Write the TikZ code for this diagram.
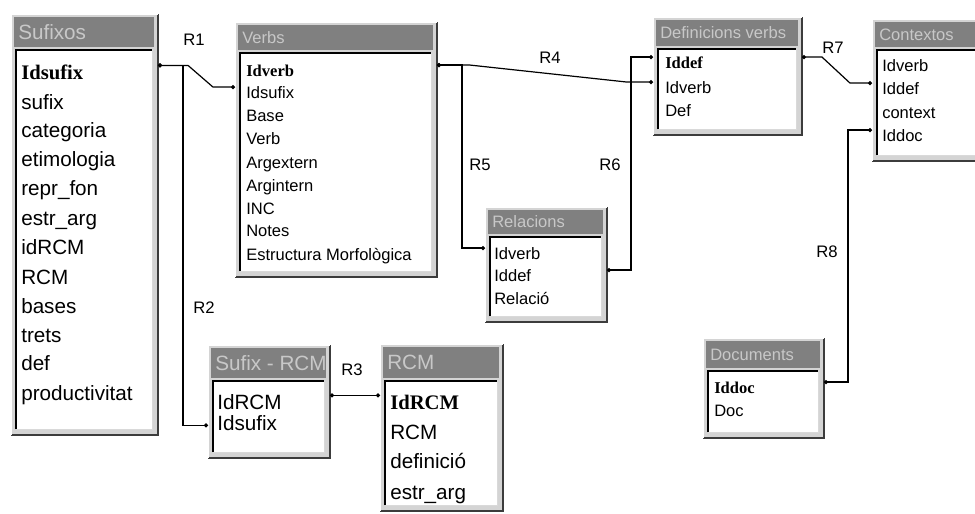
\documentclass[tikz,border=0pt]{standalone}
\usepackage{fontspec}
\setmainfont{Liberation Sans}
\newfontfamily\keyfont{Liberation Serif}
\usetikzlibrary{calc,arrows.meta}

\newlength{\du}
\setlength{\du}{0.75pt}

\definecolor{framegray}{RGB}{212,212,212}
\definecolor{titlegray}{RGB}{128,128,128}
\definecolor{titletextgray}{RGB}{200,200,200}
\definecolor{shadegray}{RGB}{60,60,60}

\newcommand{\bigfont}{\fontsize{15.5}{18}\selectfont}
\newcommand{\smallfont}{\fontsize{12.4}{15}\selectfont}
\newcommand{\pk}[1]{{\keyfont\bfseries #1}}

\tikzset{
  tableframe/.style={anchor=north west, fill=framegray, inner sep=0pt, outer sep=0pt},
  frameshade/.style={shadegray, line width=2.5\du},
  framelight/.style={white, line width=1\du},
  sunkdark/.style={black, line width=2\du},
  sunklight/.style={white!85!black, line width=1\du},
  titletext/.style={anchor=west, text=titletextgray, inner sep=2\du},
  bigrow/.style={anchor=base west, inner sep=0pt, font=\bigfont, text height=10pt, text depth=3pt},
  smallrow/.style={anchor=base west, inner sep=0pt, font=\smallfont, text height=8pt, text depth=3pt},
  rel/.style={line width=1.2\du, {Circle[length=3pt]}-{Circle[length=3pt]}},
  rellabel/.style={font=\fontsize{12.5}{15}\selectfont, inner sep=0pt},
}

% table frame: name, x, y, width, height, title bar height, title
\newcommand{\dbtable}[7]{%
  \node[tableframe, minimum width=#4\du, minimum height=#5\du] (#1) at (#2,#3) {};
  \draw[frameshade] (#1.north east) -- (#1.south east) -- (#1.south west);
  \draw[framelight] (#1.south west) -- (#1.north west) -- (#1.north east);
  \fill[titlegray] ($(#1.north west)+(3,3)$) rectangle ($(#1.north east)+(-4,3+#6)$);
  \node[titletext] (#1-title) at ($(#1.north west)+(5,3+#6/2)$) {#7};
  \fill[white] ($(#1.north west)+(5,6+#6)$) rectangle ($(#1.south east)+(-6,-6)$);
  \draw[sunklight] ($(#1.north east)+(-6,6+#6)$) -- ($(#1.south east)+(-6,-6)$) -- ($(#1.south west)+(5,-6)$);
  \draw[sunkdark] ($(#1.south west)+(5,-6)$) -- ($(#1.north west)+(5,6+#6)$) -- ($(#1.north east)+(-6,6+#6)$);
}

\begin{document}
\begin{tikzpicture}[x=\du, y=-\du]
\useasboundingbox (0,0) rectangle (975,514);

% Sufixos
\dbtable{sufixos}{11}{14}{147}{421}{30}{\bigfont Sufixos}
\node[bigrow] (suf-idsufix) at (21,79) {\pk{Idsufix}};
\node[bigrow] (suf-sufix) at (21,109) {sufix};
\node[bigrow] (suf-categoria) at (21,137) {categoria};
\node[bigrow] (suf-etimologia) at (21,166) {etimologia};
\node[bigrow] (suf-reprfon) at (21,195) {repr\_fon};
\node[bigrow] (suf-estrarg) at (21,225) {estr\_arg};
\node[bigrow] (suf-idrcm) at (21,254) {idRCM};
\node[bigrow] (suf-rcm) at (21,284) {RCM};
\node[bigrow] (suf-bases) at (21,313) {bases};
\node[bigrow] (suf-trets) at (21,342) {trets};
\node[bigrow] (suf-def) at (21,370) {def};
\node[bigrow] (suf-productivitat) at (21,400) {productivitat};

% Verbs
\dbtable{verbs}{235}{22}{202}{255}{25}{\smallfont Verbs}
\node[smallrow] (verbs-idverb) at (246,76) {\pk{Idverb}};
\node[smallrow] (verbs-idsufix) at (246,98) {Idsufix};
\node[smallrow] (verbs-base) at (246,121) {Base};
\node[smallrow] (verbs-verb) at (246,144) {Verb};
\node[smallrow] (verbs-argextern) at (246,168) {Argextern};
\node[smallrow] (verbs-argintern) at (246,191) {Argintern};
\node[smallrow] (verbs-inc) at (246,214) {INC};
\node[smallrow] (verbs-notes) at (246,236) {Notes};
\node[smallrow] (verbs-estructura) at (246,260) {Estructura Morfològica};

% Sufix - RCM
\dbtable{sufrcm}{208}{345}{122}{113}{30}{\bigfont Sufix - RCM}
\node[bigrow] (sufrcm-idrcm) at (217,409) {IdRCM};
\node[bigrow] (sufrcm-idsufix) at (217,430) {Idsufix};

% RCM
\dbtable{rcm}{380}{344}{123}{167}{31}{\bigfont RCM}
\node[bigrow] (rcm-idrcm) at (390,409) {\pk{IdRCM}};
\node[bigrow] (rcm-rcm) at (390,439) {RCM};
\node[bigrow] (rcm-definicio) at (390,468) {definició};
\node[bigrow] (rcm-estrarg) at (390,499) {estr\_arg};

% Relacions
\dbtable{relacions}{485}{207}{122}{115}{24}{\smallfont Relacions}
\node[smallrow] (rel-idverb) at (494,259) {Idverb};
\node[smallrow] (rel-iddef) at (494,281) {Iddef};
\node[smallrow] (rel-relacio) at (494,304) {Relació};

% Definicions verbs
\dbtable{defverbs}{653}{17}{149}{118}{26}{\smallfont Definicions verbs}
\node[smallrow] (def-iddef) at (665,68) {\pk{Iddef}};
\node[smallrow] (def-idverb) at (665,93) {Idverb};
\node[smallrow] (def-def) at (665,116) {Def};

% Contextos
\dbtable{contextos}{872}{19}{120}{142}{25}{\smallfont Contextos}
\node[smallrow] (ctx-idverb) at (882,71) {Idverb};
\node[smallrow] (ctx-iddef) at (882,94) {Iddef};
\node[smallrow] (ctx-context) at (882,118) {context};
\node[smallrow] (ctx-iddoc) at (882,141) {Iddoc};

% Documents
\dbtable{documents}{703}{338}{121}{100}{27}{\smallfont Documents}
\node[smallrow] (doc-iddoc) at (714,393) {\pk{Iddoc}};
\node[smallrow] (doc-doc) at (714,416) {Doc};

% relations
\draw[rel] (sufixos.east |- suf-idsufix.north) -- ++(30,0) -- ($(verbs.west |- verbs-idsufix.north)+(-22,0)$) -- (verbs.west |- verbs-idsufix.north);
\draw[rel] (sufixos.east |- suf-idsufix.north) -- ++(25,0) |- (sufrcm.west |- sufrcm-idsufix.west);
\draw[rel] (sufrcm.east |- sufrcm-idrcm.north) -- (rcm.west |- rcm-idrcm.north);
\draw[rel] (verbs.east |- verbs-idverb.north) -- ++(33,0) -- ($(defverbs.west |- def-idverb.north)+(-26,0)$) -- (defverbs.west |- def-idverb.north);
\draw[rel] (verbs.east |- verbs-idverb.north) -- ++(25,0) |- (relacions.west |- rel-idverb.north);
\draw[rel] (relacions.east |- rel-iddef.north) -| ($(defverbs.west |- def-iddef.north)+(-22,0)$) -- (defverbs.west |- def-iddef.north);
\draw[rel] (defverbs.east |- def-iddef.north) -- ++(20,0) -- ($(contextos.west |- ctx-iddef.north)+(-22,0)$) -- (contextos.west |- ctx-iddef.north);
\draw[rel] (documents.east |- doc-iddoc.north) -| ($(contextos.west |- ctx-iddoc.north)+(-24,0)$) -- (contextos.west |- ctx-iddoc.north);

\node[rellabel] (r1) at (194,40) {R1};
\node[rellabel] (r2) at (204,308) {R2};
\node[rellabel] (r3) at (352,370) {R3};
\node[rellabel] (r4) at (550,58) {R4};
\node[rellabel] (r5) at (480,165) {R5};
\node[rellabel] (r6) at (610,165) {R6};
\node[rellabel] (r7) at (833,48) {R7};
\node[rellabel] (r8) at (827,252) {R8};
\end{tikzpicture}
\end{document}
